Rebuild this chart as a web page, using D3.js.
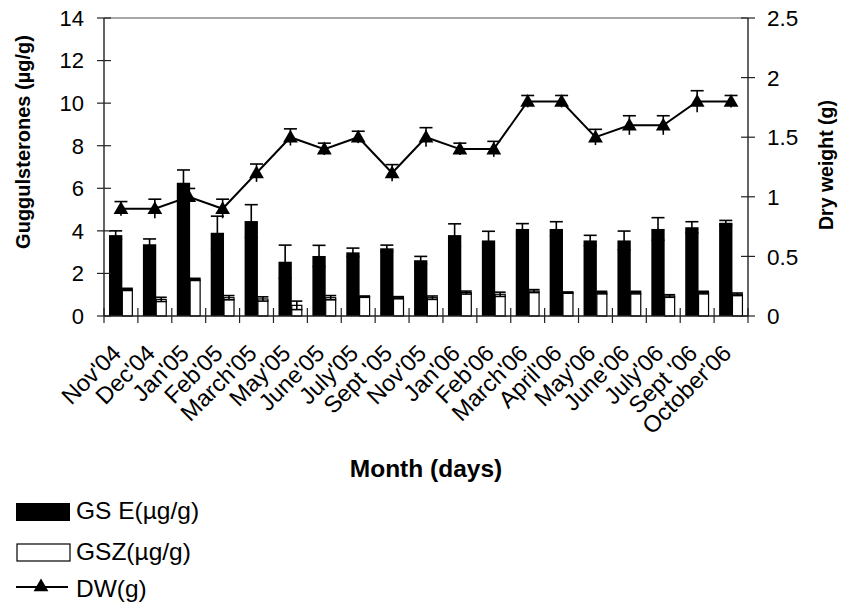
<!DOCTYPE html>
<html>
<head>
<meta charset="utf-8">
<script src="https://cdn.jsdelivr.net/npm/d3@7"></script>
<style>
  html, body { margin: 0; padding: 0; background: #fff; }
  svg { display: block; font-family: "Liberation Sans", Arial, sans-serif; }
</style>
</head>
<body>
<svg id="chart" width="846" height="608"></svg>
<script>
// Sampling months
const months = ["Nov'04", "Dec'04", "Jan'05", "Feb'05", "March'05", "May'05", "June'05", "July'05",
  "Sept '05", "Nov'05", "Jan'06", "Feb'06", "March'06", "April'06", "May'06", "June'06",
  "July'06", "Sept '06", "October'06"];

// Guggulsterone E (µg/g) and its error
const gsE = [3.8, 3.37, 6.26, 3.91, 4.46, 2.55, 2.82, 2.99, 3.18, 2.62, 3.8, 3.55, 4.09, 4.09, 3.55, 3.55, 4.09, 4.17, 4.38];
const gsEErr = [0.2, 0.25, 0.6, 0.78, 0.77, 0.78, 0.5, 0.2, 0.15, 0.18, 0.53, 0.43, 0.25, 0.34, 0.24, 0.44, 0.53, 0.26, 0.11];

// Guggulsterone Z (µg/g) and its error
const gsZ = [1.25, 0.78, 1.72, 0.86, 0.8, 0.5, 0.86, 0.91, 0.86, 0.86, 1.1, 1.02, 1.17, 1.1, 1.1, 1.1, 0.94, 1.1, 1.02];
const gsZErr = [0.05, 0.1, 0.05, 0.1, 0.1, 0.2, 0.1, 0.03, 0.05, 0.08, 0.07, 0.1, 0.07, 0.03, 0.06, 0.06, 0.06, 0.06, 0.06];

// Dry weight (g) and its error
const dw = [0.9, 0.9, 1.0, 0.9, 1.2, 1.5, 1.4, 1.5, 1.2, 1.5, 1.4, 1.4, 1.8, 1.8, 1.5, 1.6, 1.6, 1.8, 1.8];
const dwErr = [0.06, 0.08, 0.07, 0.08, 0.075, 0.07, 0.05, 0.05, 0.07, 0.08, 0.05, 0.065, 0.05, 0.05, 0.066, 0.08, 0.08, 0.09, 0.05];

const leftTicks = [0, 2, 4, 6, 8, 10, 12, 14];
const rightTicks = [0, 0.5, 1, 1.5, 2, 2.5];

const svg = d3.select("#chart");
const L = 104, R = 748, T = 18, B = 316;

const x = d3.scaleBand().domain(months).range([L, R]).paddingInner(0).paddingOuter(0);
const yL = d3.scaleLinear().domain([0, 14]).range([B, T]);
const yR = d3.scaleLinear().domain([0, 2.5]).range([B, T]);
const bw = x.bandwidth();

const rows = months.map((m, i) => ({ m, e: gsE[i], eErr: gsEErr[i], z: gsZ[i], zErr: gsZErr[i], d: dw[i], dErr: dwErr[i] }));

// bar geometry within each month slot
const eOff = bw * 0.148, eW = bw * 0.393;
const zOff = eOff + eW, zW = bw * 0.295;

// top frame line
svg.append("line").attr("x1", L).attr("x2", R).attr("y1", T).attr("y2", T)
  .attr("stroke", "#8a8a8a").attr("stroke-width", 1.5);

// GS E bars
svg.append("g").selectAll("rect").data(rows).join("rect")
  .attr("x", d => x(d.m) + eOff).attr("width", eW)
  .attr("y", d => yL(d.e)).attr("height", d => yL(0) - yL(d.e))
  .attr("fill", "#000");

// GSZ bars
svg.append("g").selectAll("rect").data(rows).join("rect")
  .attr("x", d => x(d.m) + zOff).attr("width", zW)
  .attr("y", d => yL(d.z)).attr("height", d => yL(0) - yL(d.z))
  .attr("fill", "#fff").attr("stroke", "#000").attr("stroke-width", 1.2);

// symmetric error bars with caps
function errBars(g, cx, val, err, scale, capW, lowerCap) {
  const eb = g.append("g").attr("stroke", "#000").attr("stroke-width", 1.6);
  eb.selectAll(".v").data(rows).join("line").attr("class", "v")
    .attr("x1", cx).attr("x2", cx)
    .attr("y1", d => scale(val(d) - err(d))).attr("y2", d => scale(val(d) + err(d)));
  eb.selectAll(".t").data(rows).join("line").attr("class", "t")
    .attr("x1", d => cx(d) - capW / 2).attr("x2", d => cx(d) + capW / 2)
    .attr("y1", d => scale(val(d) + err(d))).attr("y2", d => scale(val(d) + err(d)));
  if (lowerCap) {
    eb.selectAll(".b").data(rows).join("line").attr("class", "b")
      .attr("x1", d => cx(d) - capW / 2).attr("x2", d => cx(d) + capW / 2)
      .attr("y1", d => scale(val(d) - err(d))).attr("y2", d => scale(val(d) - err(d)));
  }
}
errBars(svg, d => x(d.m) + eOff + eW / 2, d => d.e, d => d.eErr, yL, 13, true);
errBars(svg, d => x(d.m) + zOff + zW / 2, d => d.z, d => d.zErr, yL, 11, true);

// dry weight line
const cx = d => x(d.m) + bw / 2;
svg.append("path").datum(rows)
  .attr("d", d3.line().x(cx).y(d => yR(d.d)))
  .attr("fill", "none").attr("stroke", "#000").attr("stroke-width", 2);

errBars(svg, cx, d => d.d, d => d.dErr, yR, 13, false);

const tri = d3.symbol().type(d3.symbolTriangle).size(95);
svg.append("g").selectAll("path").data(rows).join("path")
  .attr("d", tri)
  .attr("transform", d => `translate(${cx(d)},${yR(d.d) + 1})`)
  .attr("fill", "#000");

// axes
const axisColor = "#222";
const gL = svg.append("g");
gL.append("line").attr("x1", L).attr("x2", L).attr("y1", T).attr("y2", B).attr("stroke", axisColor).attr("stroke-width", 1.4);
gL.selectAll(".tk").data(leftTicks).join("line").attr("class", "tk")
  .attr("x1", L - 7).attr("x2", L + 7).attr("y1", d => yL(d)).attr("y2", d => yL(d))
  .attr("stroke", axisColor).attr("stroke-width", 1.2);
gL.selectAll("text").data(leftTicks).join("text")
  .attr("x", L - 20).attr("y", d => yL(d)).attr("dy", "0.36em")
  .attr("text-anchor", "end").attr("font-size", 22).text(d => d);

const gR = svg.append("g");
gR.append("line").attr("x1", R).attr("x2", R).attr("y1", T).attr("y2", B).attr("stroke", axisColor).attr("stroke-width", 1.4);
gR.selectAll(".tk").data(rightTicks).join("line").attr("class", "tk")
  .attr("x1", R - 7).attr("x2", R + 7).attr("y1", d => yR(d)).attr("y2", d => yR(d))
  .attr("stroke", axisColor).attr("stroke-width", 1.2);
gR.selectAll("text").data(rightTicks).join("text")
  .attr("x", R + 19).attr("y", d => yR(d)).attr("dy", "0.36em")
  .attr("text-anchor", "start").attr("font-size", 22.5).text(d => d);

const gX = svg.append("g");
gX.append("line").attr("x1", L).attr("x2", R).attr("y1", B).attr("y2", B).attr("stroke", axisColor).attr("stroke-width", 1.4);
const bounds = months.map(m => x(m)).concat([R]);
gX.selectAll(".tk").data(bounds).join("line").attr("class", "tk")
  .attr("x1", d => d).attr("x2", d => d).attr("y1", B - 8).attr("y2", B + 7)
  .attr("stroke", axisColor).attr("stroke-width", 1.2);
gX.selectAll("text").data(months).join("text")
  .attr("transform", m => `translate(${x(m) + bw / 2 - 10},${B + 27}) rotate(-45)`)
  .attr("text-anchor", "end").attr("dy", "0.7em")
  .attr("font-size", 23.5).text(m => m);

// axis titles
svg.append("text").attr("transform", "translate(30,142) rotate(-90)")
  .attr("text-anchor", "middle").attr("font-weight", "bold").attr("font-size", 20)
  .text("Guggulsterones (µg/g)");
svg.append("text").attr("transform", "translate(833,165) rotate(-90)")
  .attr("text-anchor", "middle").attr("font-weight", "bold").attr("font-size", 19.5)
  .text("Dry weight (g)");
svg.append("text").attr("x", 426).attr("y", 477)
  .attr("text-anchor", "middle").attr("font-weight", "bold").attr("font-size", 24.5)
  .text("Month (days)");

// legend
const lg = svg.append("g");
lg.append("rect").attr("x", 16).attr("y", 503).attr("width", 54).attr("height", 18).attr("fill", "#000");
lg.append("text").attr("x", 76).attr("y", 519).attr("font-size", 24.5).text("GS E(µg/g)");
lg.append("rect").attr("x", 17).attr("y", 544).attr("width", 53).attr("height", 17)
  .attr("fill", "#fff").attr("stroke", "#000").attr("stroke-width", 1.2);
lg.append("text").attr("x", 76).attr("y", 560).attr("font-size", 24.5).text("GSZ(µg/g)");
lg.append("line").attr("x1", 16).attr("x2", 68).attr("y1", 587).attr("y2", 587).attr("stroke", "#000").attr("stroke-width", 2);
lg.append("path").attr("d", tri).attr("transform", "translate(41,587)").attr("fill", "#000");
lg.append("text").attr("x", 76).attr("y", 597).attr("font-size", 24.5).text("DW(g)");
</script>
</body>
</html>
